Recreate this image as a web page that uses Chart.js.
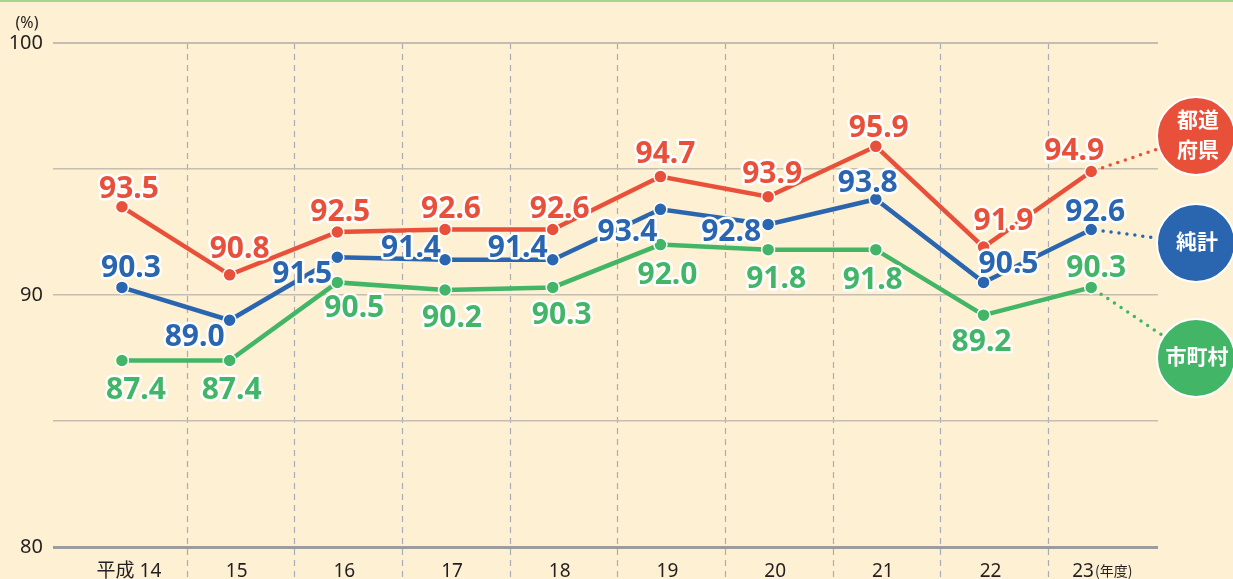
<!DOCTYPE html>
<html lang="ja">
<head>
<meta charset="UTF-8">
<title>徴収率の推移</title>
<script src="https://cdn.jsdelivr.net/npm/chart.js"></script>
<style>
  body { margin: 0; background: #fdf0d3; }
  canvas { display: block; }
</style>
</head>
<body>
<canvas id="rate-chart" width="1233" height="579"></canvas>
<script>
// 年度と各系列の値
const years = ['平成 14', '15', '16', '17', '18', '19', '20', '21', '22', '23'];
const prefValues = [93.5, 90.8, 92.5, 92.6, 92.6, 94.7, 93.9, 95.9, 91.9, 94.9];
const totalValues = [90.3, 89.0, 91.5, 91.4, 91.4, 93.4, 92.8, 93.8, 90.5, 92.6];
const cityValues = [87.4, 87.4, 90.5, 90.2, 90.3, 92.0, 91.8, 91.8, 89.2, 90.3];
const yTicks = [80, 90, 100];

const RED = '#e9503a';
const BLUE = '#2a65b0';
const GREEN = '#43b567';

// ラベルの位置 (点からのずれ px)
const prefOffsets = [[7,-20],[10,-28],[3,-22],[6,-22],[7,-22],[5,-25],[4,-25],[3,-20],[20,-28],[-17,-23]];
const totalOffsets = [[9,-21],[-35,15],[-35,15],[-34,-14],[-35,-14],[-33,21],[-37,6],[-8,-18],[25,-20],[4,-19]];
const cityOffsets = [[14,27],[2,27],[17,24],[7,26],[9,26],[7,28],[8,27],[-3,28],[-2,25],[5,-21]];

const legendItems = [
  { lines: ['都道', '府県'], color: RED, cy: 136, ds: 0 },
  { lines: ['純計'], color: BLUE, cy: 243, ds: 1 },
  { lines: ['市町村'], color: GREEN, cy: 358, ds: 2 }
];

function toPoints(values) {
  return values.map((v, i) => ({ x: i, y: v }));
}

function makeSet(label, values, color, offsets) {
  return {
    label: label,
    data: toPoints(values),
    borderColor: color,
    backgroundColor: color,
    borderWidth: 4.5,
    pointRadius: 6.5,
    pointBorderColor: '#ffffff',
    pointBorderWidth: 1.5,
    tension: 0,
    offsets: offsets
  };
}

const LABEL_FONT = 'bold 30px "Noto Sans", "Noto Sans CJK JP", sans-serif';

const decorations = {
  id: 'decorations',
  beforeDraw(chart) {
    const { ctx, chartArea, scales } = chart;
    ctx.save();
    ctx.fillStyle = '#fdf0d3';
    ctx.fillRect(0, 0, chart.width, chart.height);
    ctx.fillStyle = '#a6d58c';
    ctx.fillRect(0, 0, chart.width, 2);

    // 年度の区切り (点線)
    ctx.strokeStyle = '#a9adb9';
    ctx.lineWidth = 1.2;
    ctx.setLineDash([6, 5]);
    for (let i = 0; i < years.length - 1; i++) {
      const x = Math.round(scales.x.getPixelForValue(i + 0.6)) + 0.5;
      ctx.beginPath();
      ctx.moveTo(x, chartArea.top);
      ctx.lineTo(x, chart.height);
      ctx.stroke();
    }
    ctx.restore();
  },
  afterDraw(chart) {
    const { ctx, chartArea, scales } = chart;
    ctx.save();

    // 単位
    ctx.fillStyle = '#231f20';
    ctx.font = '16px "Noto Sans", sans-serif';
    ctx.textAlign = 'center';
    ctx.textBaseline = 'alphabetic';
    ctx.fillText('(%)', 27, 28);

    // 横軸の年度
    ctx.font = '19px "Noto Sans", "Noto Sans CJK JP", sans-serif';
    years.forEach((y, i) => {
      const x = scales.x.getPixelForValue(i);
      if (i === years.length - 1) {
        ctx.textAlign = 'left';
        ctx.font = '19px "Noto Sans", sans-serif';
        const start = x - 19;
        ctx.fillText(y, start, 577);
        const w = ctx.measureText(y).width;
        ctx.font = '14px "Noto Sans CJK JP", sans-serif';
        ctx.fillText('(年度)', start + w + 1, 576);
      } else {
        ctx.textAlign = 'center';
        ctx.fillText(y, x + 7, 577);
      }
    });

    // 凡例への点線と丸
    const cx = chartArea.right + 38;
    const r = 39;
    legendItems.forEach(item => {
      const meta = chart.getDatasetMeta(item.ds);
      const last = meta.data[meta.data.length - 1];
      const dx = cx - last.x, dy = item.cy - last.y;
      const len = Math.sqrt(dx * dx + dy * dy);
      ctx.strokeStyle = item.color;
      ctx.lineWidth = 3.5;
      ctx.lineCap = 'round';
      ctx.setLineDash([0, 8]);
      ctx.beginPath();
      ctx.moveTo(last.x + dx / len * 12, last.y + dy / len * 12);
      ctx.lineTo(cx - dx / len * (r + 2), item.cy - dy / len * (r + 2));
      ctx.stroke();
      ctx.setLineDash([]);

      ctx.beginPath();
      ctx.arc(cx, item.cy, r, 0, Math.PI * 2);
      ctx.fillStyle = item.color;
      ctx.fill();
      ctx.strokeStyle = '#ffffff';
      ctx.lineWidth = 2;
      ctx.stroke();

      ctx.fillStyle = '#ffffff';
      ctx.font = 'bold 21px "Noto Sans CJK JP", sans-serif';
      ctx.textAlign = 'center';
      ctx.textBaseline = 'middle';
      if (item.lines.length === 2) {
        ctx.fillText(item.lines[0], cx + 2, item.cy - 17);
        ctx.fillText(item.lines[1], cx + 2, item.cy + 13);
      } else {
        ctx.fillText(item.lines[0], cx + 1, item.cy - 2);
      }
    });

    // 値ラベル
    ctx.font = LABEL_FONT;
    ctx.textAlign = 'center';
    ctx.textBaseline = 'alphabetic';
    ctx.lineJoin = 'round';
    chart.data.datasets.forEach((ds, d) => {
      const meta = chart.getDatasetMeta(d);
      meta.data.forEach((pt, i) => {
        const off = ds.offsets[i];
        const text = ds.data[i].y.toFixed(1);
        const tx = pt.x + off[0];
        const ty = pt.y + off[1] + 11;
        ctx.strokeStyle = '#ffffff';
        ctx.lineWidth = 5;
        ctx.strokeText(text, tx, ty);
        ctx.fillStyle = ds.borderColor;
        ctx.fillText(text, tx, ty);
      });
    });
    ctx.restore();
  }
};

const ctx = document.getElementById('rate-chart').getContext('2d');
const chart = new Chart(ctx, {
  type: 'line',
  data: {
    datasets: [
      makeSet('都道府県', prefValues, RED, prefOffsets),
      makeSet('純計', totalValues, BLUE, totalOffsets),
      makeSet('市町村', cityValues, GREEN, cityOffsets)
    ]
  },
  plugins: [decorations],
  options: {
    responsive: false,
    animation: false,
    layout: { padding: { top: 43, right: 75, left: 0, bottom: 0 } },
    plugins: {
      legend: { display: false },
      tooltip: { enabled: false }
    },
    scales: {
      x: {
        type: 'linear',
        min: -0.64,
        max: 9.62,
        ticks: { display: false },
        grid: { display: false },
        border: { display: false },
        afterFit(scale) { scale.height = 32; }
      },
      y: {
        min: 80,
        max: 100,
        afterBuildTicks(scale) {
          scale.ticks = [80, 85, 90, 95, 100].map(v => ({ value: v }));
        },
        ticks: {
          padding: 10,
          color: '#231f20',
          font: { family: '"Noto Sans", sans-serif', size: 20 },
          callback: v => (yTicks.includes(v) ? String(v) : '')
        },
        grid: {
          drawTicks: false,
          color: ctx => (ctx.tick && ctx.tick.value === 80 ? '#9c9c9c' : '#c4bdb0'),
          lineWidth: ctx => (ctx.tick && ctx.tick.value === 80 ? 3 : (ctx.tick && ctx.tick.value === 100 ? 2 : 1.5))
        },
        border: { display: false },
        afterFit(scale) { scale.width = 53; }
      }
    }
  }
});
</script>
</body>
</html>
